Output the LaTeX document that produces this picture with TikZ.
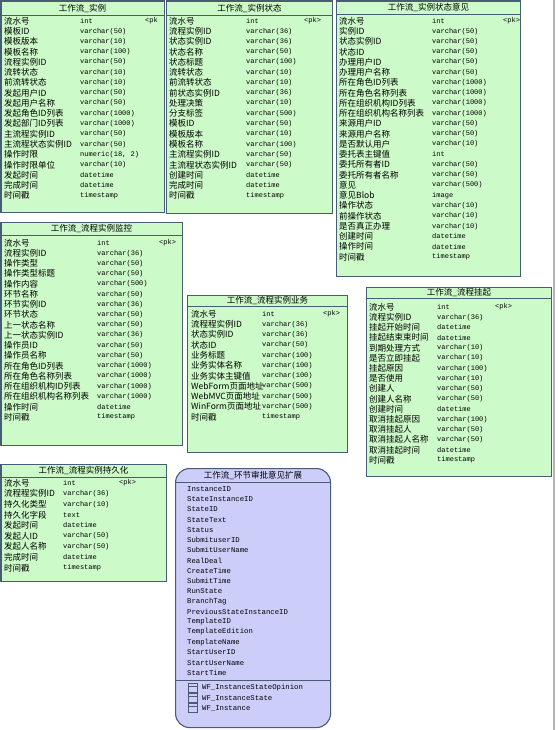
\documentclass[tikz,border=0pt]{standalone}
\usepackage{fontspec}
\newfontfamily\cjk{Noto Sans CJK SC}
\newfontfamily\monofont{Liberation Mono}

\definecolor{tblgreen}{RGB}{204,250,200}
\definecolor{tbledge}{RGB}{72,92,118}
\definecolor{viewblue}{RGB}{205,205,250}

\begin{document}
\begin{tikzpicture}[
		x=1pt, y=-1pt,
		tbl/.style={draw=tbledge, fill=tblgreen, line width=1.1pt, anchor=north west, inner sep=0},
		view/.style={tbl, fill=viewblue, rounded corners=14pt},
		ttl/.style={font=\cjk\fontsize{8.5}{9}\selectfont, inner sep=0},
		fname/.style={font=\cjk\fontsize{8.5}{9}\selectfont, anchor=west, inner sep=0},
		ftype/.style={font=\monofont\fontsize{7}{8}\selectfont, anchor=west, inner sep=0},
		fattr/.style={font=\monofont\fontsize{7.3}{8}\selectfont, anchor=west, inner sep=0},
		sep/.style={draw=tbledge, line width=0.8pt}
	]
  \useasboundingbox (0,0) rectangle (557,730);
  \draw[gray!60, line width=1.5pt] (554,0) -- (554,730);

  % 工作流_实例
  \node[tbl, minimum width=163pt, minimum height=211pt] (inst) at (0.5,0.5) {};
  \draw[sep] ([yshift=-15pt]inst.north west) -- ([yshift=-15pt]inst.north east);
  \node[ttl] (inst-title) at ([yshift=-7.5pt]inst.north) {工作流\_实例};
  \node[ftype] (inst-pk) at (145,21) {<pk};
  \foreach \fn/\ft [count=\i from 0] in {流水号/int, 模板ID/varchar(50), 模板版本/varchar(10),
      模板名称/varchar(100), 流程实例ID/varchar(50), 流转状态/varchar(10), 前流转状态/varchar(10),
      发起用户ID/varchar(50), 发起用户名称/varchar(50), 发起角色ID列表/varchar(1000),
      发起部门ID列表/varchar(1000), 主流程实例ID/varchar(50), 主流程状态实例ID/varchar(50),
      操作时限/numeric(18{,} 2), 操作时限单位/varchar(10), 发起时间/datetime, 完成时间/datetime,
      时间戳/timestamp}
    \node[fname] (inst-n\i) at (4,{21+\i*10.27}) {\fn} node[ftype] (inst-t\i) at (80,{21+\i*10.27}) {\ft};

  % 工作流_实例状态
  \node[tbl, minimum width=166pt, minimum height=212pt] (state) at (166,0.5) {};
  \draw[sep] ([yshift=-15pt]state.north west) -- ([yshift=-15pt]state.north east);
  \node[ttl] (state-title) at ([yshift=-7.5pt]state.north) {工作流\_实例状态};
  \node[ftype] (state-pk) at (304,21) {<pk>};
  \foreach \fn/\ft [count=\i from 0] in {流水号/int, 流程实例ID/varchar(36), 状态实例ID/varchar(36),
      状态名称/varchar(50), 状态标题/varchar(100), 流转状态/varchar(10), 前流转状态/varchar(10),
      前状态实例ID/varchar(36), 处理决策/varchar(10), 分支标签/varchar(500), 模板ID/varchar(50),
      模板版本/varchar(10), 模板名称/varchar(100), 主流程实例ID/varchar(50),
      主流程状态实例ID/varchar(50), 创建时间/datetime, 完成时间/datetime, 时间戳/timestamp}
    \node[fname] (state-n\i) at (169,{21+\i*10.27}) {\fn} node[ftype] (state-t\i) at (246,{21+\i*10.27}) {\ft};

  % 工作流_实例状态意见
  \node[tbl, minimum width=184pt, minimum height=275pt] (opin) at (336,0.5) {};
  \draw[sep] ([yshift=-14pt]opin.north west) -- ([yshift=-14pt]opin.north east);
  \node[ttl] (opin-title) at ([yshift=-7pt]opin.north) {工作流\_实例状态意见};
  \node[ftype] (opin-pk) at (503,21) {<pk>};
  \foreach \fn/\ft [count=\i from 0] in {流水号/int, 实例ID/varchar(50), 状态实例ID/varchar(50),
      状态ID/varchar(50), 办理用户ID/varchar(50), 办理用户名称/varchar(50),
      所在角色ID列表/varchar(1000), 所在角色名称列表/varchar(1000), 所在组织机构ID列表/varchar(1000),
      所在组织机构名称列表/varchar(1000), 来源用户ID/varchar(50), 来源用户名称/varchar(50),
      是否默认用户/varchar(10), 委托表主键值/int, 委托所有者ID/varchar(50),
      委托所有者名称/varchar(50), 意见/varchar(500), 意见Blob/image, 操作状态/varchar(10),
      前操作状态/varchar(10), 是否真正办理/varchar(10), 创建时间/datetime, 操作时间/datetime,
      时间戳/timestamp}
    \node[fname] (opin-n\i) at (339,{21+\i*10.26}) {\fn} node[ftype] (opin-t\i) at (432,{21+\i*10.26}) {\ft};

  % 工作流_流程实例监控
  \node[tbl, minimum width=181pt, minimum height=223pt] (monitor) at (0.5,222) {};
  \draw[sep] ([yshift=-13pt]monitor.north west) -- ([yshift=-13pt]monitor.north east);
  \node[ttl] (monitor-title) at ([yshift=-6.5pt]monitor.north) {工作流\_流程实例监控};
  \node[ftype] (monitor-pk) at (159,243) {<pk>};
  \foreach \fn/\ft [count=\i from 0] in {流水号/int, 流程实例ID/varchar(36), 操作类型/varchar(50),
      操作类型标题/varchar(50), 操作内容/varchar(500), 环节名称/varchar(50), 环节实例ID/varchar(36),
      环节状态/varchar(50), 上一状态名称/varchar(50), 上一状态实例ID/varchar(36),
      操作员ID/varchar(50), 操作员名称/varchar(50), 所在角色ID列表/varchar(1000),
      所在角色名称列表/varchar(1000), 所在组织机构ID列表/varchar(1000),
      所在组织机构名称列表/varchar(1000), 操作时间/datetime, 时间戳/timestamp}
    \node[fname] (monitor-n\i) at (4,{243+\i*10.24}) {\fn} node[ftype] (monitor-t\i) at (97,{243+\i*10.24}) {\ft};

  % 工作流_流程实例业务
  \node[tbl, minimum width=160pt, minimum height=157pt] (biz) at (187,295) {};
  \draw[sep] ([yshift=-11pt]biz.north west) -- ([yshift=-11pt]biz.north east);
  \node[ttl] (biz-title) at ([yshift=-5.5pt]biz.north) {工作流\_流程实例业务};
  \node[ftype] (biz-pk) at (323,314) {<pk>};
  \foreach \fn/\ft [count=\i from 0] in {流水号/int, 流程程实例ID/varchar(36), 状态实例ID/varchar(36),
      状态ID/varchar(50), 业务标题/varchar(100), 业务实体名称/varchar(100),
      业务实体主键值/varchar(100), WebForm页面地址/varchar(500), WebMVC页面地址/varchar(500),
      WinForm页面地址/varchar(500), 时间戳/timestamp}
    \node[fname] (biz-n\i) at (191,{314+\i*10.3}) {\fn} node[ftype] (biz-t\i) at (262,{314+\i*10.3}) {\ft};

  % 工作流_流程挂起
  \node[tbl, minimum width=185pt, minimum height=189pt] (hang) at (366,287) {};
  \draw[sep] ([yshift=-11pt]hang.north west) -- ([yshift=-11pt]hang.north east);
  \node[ttl] (hang-title) at ([yshift=-5.5pt]hang.north) {工作流\_流程挂起};
  \node[ftype] (hang-pk) at (495,307) {<pk>};
  \foreach \fn/\ft [count=\i from 0] in {流水号/int, 流程实例ID/varchar(36), 挂起开始时间/datetime,
      挂起结束束时间/datetime, 到期处理方式/varchar(10), 是否立即挂起/varchar(10),
      挂起原因/varchar(100), 是否使用/varchar(10), 创建人/varchar(50), 创建人名称/varchar(50),
      创建时间/datetime, 取消挂起原因/varchar(100), 取消挂起人/varchar(50),
      取消挂起人名称/varchar(50), 取消挂起时间/datetime, 时间戳/timestamp}
    \node[fname] (hang-n\i) at (369,{307+\i*10.2}) {\fn} node[ftype] (hang-t\i) at (437,{307+\i*10.2}) {\ft};

  % 工作流_流程实例持久化
  \node[tbl, minimum width=165pt, minimum height=117pt] (persist) at (0.5,464) {};
  \draw[sep] ([yshift=-13pt]persist.north west) -- ([yshift=-13pt]persist.north east);
  \node[ttl] (persist-title) at ([yshift=-6.5pt]persist.north) {工作流\_流程实例持久化};
  \node[ftype] (persist-pk) at (119,483) {<pk>};
  \foreach \fn/\ft [count=\i from 0] in {流水号/int, 流程程实例ID/varchar(36), 持久化类型/varchar(10),
      持久化字段/text, 发起时间/datetime, 发起人ID/varchar(50), 发起人名称/varchar(50),
      完成时间/datetime, 时间戳/timestamp}
    \node[fname] (persist-n\i) at (4,{483+\i*10.6}) {\fn} node[ftype] (persist-t\i) at (63,{483+\i*10.6}) {\ft};

  % 工作流_环节审批意见扩展 (view)
  \node[view, minimum width=155pt, minimum height=259pt] (ext) at (175,468) {};
  \draw[sep] ([yshift=-14pt]ext.north west) -- ([yshift=-14pt]ext.north east);
  \draw[sep] ([yshift=-212pt]ext.north west) -- ([yshift=-212pt]ext.north east);
  \node[ttl] (ext-title) at ([yshift=-7pt]ext.north) {工作流\_环节审批意见扩展};
  \foreach \fa [count=\i from 0] in {InstanceID, StateInstanceID, StateID, StateText, Status,
      SubmituserID, SubmitUserName, RealDeal, CreateTime, SubmitTime, RunState, BranchTag,
      PreviousStateInstanceID, TemplateID, TemplateEdition, TemplateName, StartUserID,
      StartUserName, StartTime}
    \node[fattr] (ext-a\i) at (187,{489+\i*10.22}) {\fa};
  \foreach \fm [count=\i from 0] in {WF\_InstanceStateOpinion, WF\_InstanceState, WF\_Instance} {
    \draw[tbledge, line width=0.6pt] (188,{683.5+\i*10}) rectangle (197,{692+\i*10});
    \draw[tbledge, line width=0.6pt] (188,{686.5+\i*10}) -- (197,{686.5+\i*10});
    \node[fattr] (ext-m\i) at (202,{688+\i*10}) {\fm};
  }
\end{tikzpicture}
\end{document}
